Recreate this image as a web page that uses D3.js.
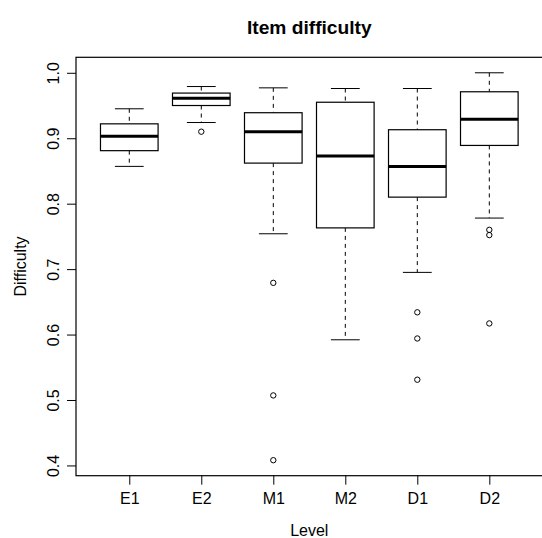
<!DOCTYPE html>
<html>
<head>
<meta charset="utf-8">
<script src="https://cdn.jsdelivr.net/npm/d3@7"></script>
<style>
  body { margin: 0; background: #fff; }
  svg { display: block; font-family: "Liberation Sans", Arial, sans-serif; }
</style>
</head>
<body>
<div id="viz"></div>
<script>
// box statistics
const levels = ["E1", "E2", "M1", "M2", "D1", "D2"];
const whiskerLow  = [0.857, 0.924, 0.754, 0.592, 0.695, 0.778];
const q1          = [0.881, 0.950, 0.862, 0.763, 0.810, 0.889];
const median      = [0.903, 0.961, 0.910, 0.873, 0.857, 0.929];
const q3          = [0.922, 0.969, 0.939, 0.955, 0.913, 0.971];
const whiskerHigh = [0.945, 0.979, 0.977, 0.976, 0.976, 1.000];
const outliers    = [[], [0.910], [0.679, 0.507, 0.408], [], [0.634, 0.594, 0.531], [0.760, 0.752, 0.617]];
const yTicks = [0.4, 0.5, 0.6, 0.7, 0.8, 0.9, 1.0];

let w = 542;
let h = 538;
let plotLeft = 76, plotRight = 542.6, plotTop = 57.3, plotBottom = 475.7;

let boxes = levels.map((lev, i) => ({
  level: lev, pos: i + 1,
  lo: whiskerLow[i], q1: q1[i], med: median[i], q3: q3[i], hi: whiskerHigh[i],
  out: outliers[i]
}));

// R style ranges: 4% extension on both sides
let allVals = whiskerLow.concat(whiskerHigh, outliers.flat());
let ymin = d3.min(allVals), ymax = d3.max(allVals);
let ext = (ymax - ymin) * 0.04;

let x = d3.scaleLinear().domain([0.5 - 6 * 0.04, 6.5 + 6 * 0.04]).range([plotLeft, plotRight]);
let y = d3.scaleLinear().domain([ymin - ext, ymax + ext]).range([plotBottom, plotTop]);
let halfBox = x(1.4) - x(1);

let viz = d3.select("#viz").append("svg")
  .attr("width", w).attr("height", h);

// boxes
let g = viz.selectAll(".box").data(boxes).enter().append("g").attr("class", "box");

// whiskers (dashed)
g.append("line")
  .attr("x1", d => x(d.pos)).attr("x2", d => x(d.pos))
  .attr("y1", d => y(d.hi)).attr("y2", d => y(d.q3))
  .attr("stroke", "black").attr("stroke-dasharray", "4,4");
g.append("line")
  .attr("x1", d => x(d.pos)).attr("x2", d => x(d.pos))
  .attr("y1", d => y(d.q1)).attr("y2", d => y(d.lo))
  .attr("stroke", "black").attr("stroke-dasharray", "4,4");
// whisker caps
g.append("line")
  .attr("x1", d => x(d.pos) - halfBox / 2).attr("x2", d => x(d.pos) + halfBox / 2)
  .attr("y1", d => y(d.hi)).attr("y2", d => y(d.hi))
  .attr("stroke", "black");
g.append("line")
  .attr("x1", d => x(d.pos) - halfBox / 2).attr("x2", d => x(d.pos) + halfBox / 2)
  .attr("y1", d => y(d.lo)).attr("y2", d => y(d.lo))
  .attr("stroke", "black");
// box
g.append("rect")
  .attr("x", d => x(d.pos) - halfBox).attr("width", halfBox * 2)
  .attr("y", d => y(d.q3)).attr("height", d => y(d.q1) - y(d.q3))
  .attr("fill", "white").attr("stroke", "black").attr("stroke-width", 1.2);
// median
g.append("line")
  .attr("x1", d => x(d.pos) - halfBox).attr("x2", d => x(d.pos) + halfBox)
  .attr("y1", d => y(d.med)).attr("y2", d => y(d.med))
  .attr("stroke", "black").attr("stroke-width", 3);
// outliers
g.selectAll(".out").data(d => d.out.map(v => ({pos: d.pos, v: v}))).enter()
  .append("circle").attr("class", "out")
  .attr("cx", d => x(d.pos)).attr("cy", d => y(d.v)).attr("r", 2.7)
  .attr("fill", "none").attr("stroke", "black").attr("stroke-width", 1);

// plot frame
viz.append("rect")
  .attr("x", plotLeft).attr("y", plotTop).attr("width", plotRight - plotLeft).attr("height", plotBottom - plotTop)
  .attr("fill", "none").attr("stroke", "black").attr("stroke-width", 1.2);

// x axis
let xAxis = d3.axisBottom(x).tickValues(d3.range(1, 7))
  .tickFormat(d => levels[d - 1]).tickSize(9).tickSizeOuter(0);
let xg = viz.append("g").attr("transform", "translate(0," + plotBottom + ")").call(xAxis);
xg.select(".domain").remove();
xg.selectAll("text").attr("font-size", "16px").attr("font-family", "Liberation Sans, Arial, sans-serif")
  .attr("fill", "black").attr("dy", null).attr("y", 28.8);
xg.selectAll("line").attr("stroke", "black");

// y axis
let yAxis = d3.axisLeft(y).tickValues(yTicks).tickFormat(d3.format(".1f")).tickSize(9).tickSizeOuter(0);
let yg = viz.append("g").attr("transform", "translate(" + plotLeft + ",0)").call(yAxis);
yg.select(".domain").remove();
yg.selectAll("line").attr("stroke", "black");
yg.selectAll("text")
  .attr("font-size", "16px").attr("font-family", "Liberation Sans, Arial, sans-serif")
  .attr("fill", "black")
  .attr("x", null).attr("dy", null)
  .attr("text-anchor", "middle")
  .attr("transform", "translate(-17.5,0) rotate(-90)");

// titles
viz.append("text")
  .attr("x", (plotLeft + plotRight) / 2).attr("y", 33.5)
  .attr("text-anchor", "middle").attr("font-size", "19.2px").attr("font-weight", "bold")
  .text("Item difficulty");
viz.append("text")
  .attr("x", (plotLeft + plotRight) / 2).attr("y", 536)
  .attr("text-anchor", "middle").attr("font-size", "16px")
  .text("Level");
viz.append("text")
  .attr("transform", "translate(26," + ((plotTop + plotBottom) / 2) + ") rotate(-90)")
  .attr("text-anchor", "middle").attr("font-size", "16px")
  .text("Difficulty");
</script>
</body>
</html>
